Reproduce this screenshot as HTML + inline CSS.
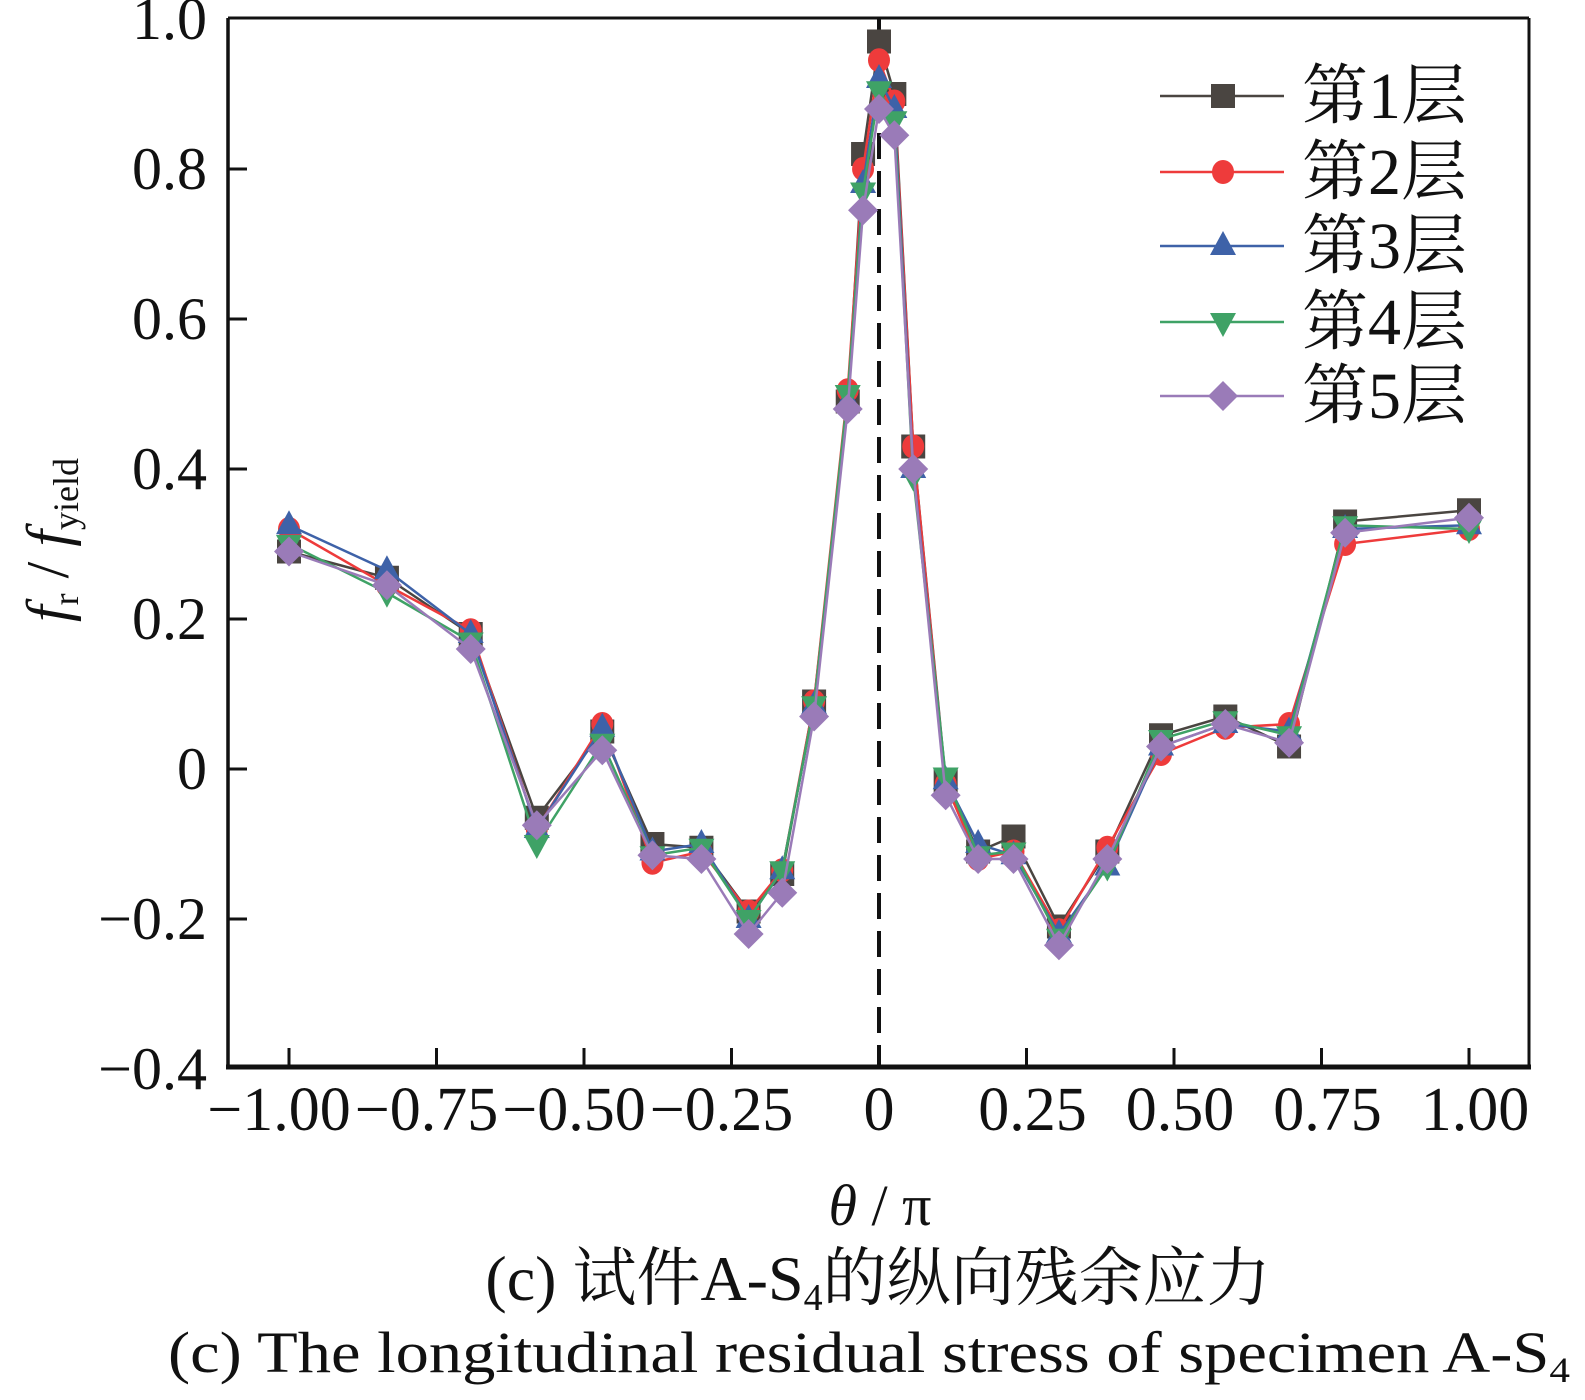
<!DOCTYPE html>
<html><head><meta charset="utf-8"><style>
html,body{margin:0;padding:0;background:#fff;}
svg{display:block;}
text{font-family:"Liberation Serif","Noto Serif CJK SC",serif;fill:#111;}
</style></head><body>
<svg id="s" width="1585" height="1400" viewBox="0 0 1585 1400" xmlns="http://www.w3.org/2000/svg">
<rect width="1585" height="1400" fill="#fff"/>
<g id="plot"></g>
<line x1="228" y1="18" x2="1529" y2="18" stroke="#111" stroke-width="3"/>
<line x1="1529" y1="18" x2="1529" y2="1068" stroke="#111" stroke-width="3"/>
<line x1="228" y1="18" x2="228" y2="1068" stroke="#111" stroke-width="3.5"/>
<line x1="226" y1="1067" x2="1531" y2="1067" stroke="#111" stroke-width="5"/>
<g id="ticks"></g>
<text x="880" y="1225" font-size="58" text-anchor="middle"><tspan font-style="italic">θ</tspan> / π</text>
<text x="878" y="1300" font-size="64" text-anchor="middle">(c)  试件A-S<tspan font-size="38" dy="10">4</tspan><tspan dy="-10">的纵向残余应力</tspan></text>
<text x="168" y="1372" font-size="58" textLength="1402" lengthAdjust="spacingAndGlyphs">(c)  The longitudinal residual stress of specimen A-S<tspan font-size="36" dy="10">4</tspan></text>
<g transform="translate(68,540) rotate(-90)">
<text x="0" y="0" font-size="60" text-anchor="middle"><tspan font-style="italic">f</tspan><tspan font-size="36" dy="10">r</tspan><tspan dy="-10"> / </tspan><tspan font-style="italic">f</tspan><tspan font-size="36" dy="10">yield</tspan></text>
</g>
</svg>
<script>
const NS="http://www.w3.org/2000/svg";
const X=t=>879+t*590, Y=v=>19+(1-v)*750;
const plot=document.getElementById('plot'), ticks=document.getElementById('ticks');
function el(n,a,p){const e=document.createElementNS(NS,n);for(const k in a)e.setAttribute(k,a[k]);(p||plot).appendChild(e);return e;}
el('line',{x1:879,y1:19,x2:879,y2:1066,stroke:'#111','stroke-width':4,'stroke-dasharray':'26 12'});
const TT=[-1,-0.75,-0.5,-0.25,0,0.25,0.5,0.75,1];
TT.forEach(t=>{const x=X(t);el('line',{x1:x,y1:1065,x2:x,y2:1048,stroke:'#111','stroke-width':3},ticks);});
const xl=["−1.00","−0.75","−0.50","−0.25","0","0.25","0.50","0.75","1.00"];
TT.forEach((t,i)=>{const e=el('text',{x:X(t)+(i<4?-10:(i==4?0:6)),y:1130,'font-size':62,'text-anchor':'middle'},ticks);e.textContent=xl[i];});
[1,0.8,0.6,0.4,0.2,0,-0.2,-0.4].forEach(v=>{const y=Y(v);if(v>-0.4&&v<1)el('line',{x1:229,y1:y,x2:247,y2:y,stroke:'#111','stroke-width':3},ticks);
const e=el('text',{x:207,y:y+20,'font-size':60,'text-anchor':'end'},ticks);e.textContent=v==0?"0":(v<0?"−":"")+Math.abs(v).toFixed(1);});
const T=[-1,-0.834,-0.692,-0.58,-0.469,-0.384,-0.301,-0.221,-0.164,-0.11,-0.053,-0.027,0,0.026,0.058,0.113,0.168,0.228,0.305,0.387,0.478,0.587,0.695,0.79,1.0];
const D=[
[0.29,0.32,0.325,0.30,0.29],[0.255,0.245,0.265,0.235,0.245],[0.18,0.185,0.18,0.17,0.16],[-0.065,-0.08,-0.08,-0.10,-0.075],
[0.05,0.06,0.055,0.035,0.025],[-0.10,-0.125,-0.11,-0.115,-0.115],[-0.105,-0.11,-0.10,-0.105,-0.12],[-0.19,-0.19,-0.2,-0.2,-0.22],
[-0.14,-0.135,-0.135,-0.135,-0.165],[0.09,0.09,0.085,0.085,0.07],[0.49,0.505,0.49,0.5,0.48],[0.82,0.80,0.78,0.77,0.745],
[0.97,0.945,0.92,0.905,0.88],[0.90,0.89,0.88,0.865,0.845],[0.43,0.43,0.40,0.39,0.40],[-0.015,-0.02,-0.015,-0.01,-0.035],
[-0.11,-0.12,-0.10,-0.115,-0.12],[-0.09,-0.11,-0.115,-0.11,-0.12],[-0.21,-0.215,-0.22,-0.225,-0.235],[-0.11,-0.105,-0.13,-0.13,-0.12],
[0.045,0.02,0.03,0.04,0.03],[0.07,0.055,0.06,0.065,0.06],[0.03,0.06,0.05,0.045,0.035],[0.33,0.30,0.32,0.325,0.315],[0.345,0.32,0.325,0.32,0.335]];
const C=['#4a4541','#ee3b3b','#3e62a8','#3fa266','#9a7bb8'];
function mk(s,x,y,g){const c=C[s];
 if(s==0)el('rect',{x:x-12,y:y-12,width:24,height:24,fill:c},g);
 else if(s==1)el('ellipse',{cx:x,cy:y,rx:11,ry:12,fill:c},g);
 else if(s==2)el('polygon',{points:`${x},${y-15} ${x+13},${y+9} ${x-13},${y+9}`,fill:c},g);
 else if(s==3)el('polygon',{points:`${x},${y+15} ${x+13},${y-9} ${x-13},${y-9}`,fill:c},g);
 else el('polygon',{points:`${x},${y-15} ${x+15},${y} ${x},${y+15} ${x-15},${y}`,fill:c},g);}
for(let s=0;s<5;s++){
 el('polyline',{points:T.map((t,i)=>X(t)+','+Y(D[i][s])).join(' '),fill:'none',stroke:C[s],'stroke-width':2.5});
 T.forEach((t,i)=>mk(s,X(t),Y(D[i][s])));
}
const LY=[96,172,246,322,396];
for(let s=0;s<5;s++){const y=LY[s];
 el('line',{x1:1160,y1:y,x2:1284,y2:y,stroke:C[s],'stroke-width':2.5});
 mk(s,1223,y);
 const e=el('text',{x:1302,y:y+22,'font-size':66});e.textContent='第'+(s+1)+'层';}
</script>
</body></html>
